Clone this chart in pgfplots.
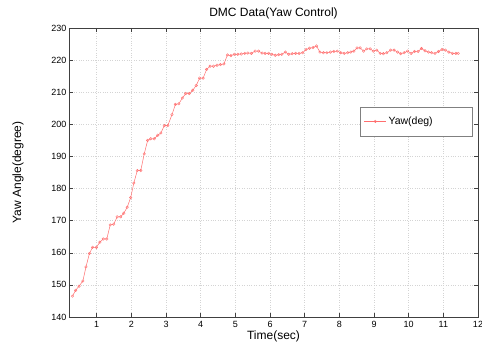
\documentclass[border=0pt]{standalone}
\usepackage{fontspec}
\setmainfont{Liberation Sans}
\usepackage{pgfplots}
\pgfplotsset{compat=1.18}
\definecolor{yawred}{RGB}{255,110,110}
\definecolor{gridgray}{RGB}{212,212,212}
\begin{document}
\begin{tikzpicture}
\begin{axis}[
  scale only axis, width=409pt, height=289pt,
  xmin=0.2, xmax=12, ymin=140, ymax=230,
  xtick={1,2,...,12}, ytick={140,150,...,230},
  grid=major, major grid style={dotted, gridgray, line width=0.5pt},
  tick align=inside, major tick length=4pt,
  axis line style={black!75, line width=0.5pt},
  tick style={black!75, line width=0.5pt},
  /pgf/number format/assume math mode=true,
  tick label style={font=\fontsize{9}{10}\selectfont},
  xticklabel style={yshift=-1pt},
  yticklabel style={xshift=1pt},
  xlabel={Time(sec)}, ylabel={Yaw Angle(degree)},
  label style={font=\fontsize{12}{14}\selectfont},
  xlabel style={yshift=3.5pt},
  ylabel style={yshift=21pt},
  title={DMC Data(Yaw Control)},
  title style={font=\fontsize{12}{14}\selectfont, at={(0.5,1)}, anchor=south, yshift=-1pt},
  legend style={at={(0.711,0.728)}, anchor=north west, draw=black!50, line width=0.5pt,
    inner xsep=4pt, inner ysep=8pt, font=\fontsize{10.5}{12}\selectfont},
  legend cell align=left,
  legend image code/.code={\draw[mark repeat=2,mark phase=2,#1] plot coordinates {(0pt,0pt) (11pt,0pt) (22pt,0pt)};},
]
\addplot[color=yawred, line width=0.5pt, mark=o, mark size=1.3pt, mark options={line width=0.4pt}] coordinates {
(0.30,146.5) (0.39,148.3) (0.49,149.6) (0.60,151.2) (0.69,155.6) (0.79,159.8)
(0.88,161.7) (0.99,161.7) (1.09,163.3) (1.19,164.3) (1.29,164.3) (1.39,168.7)
(1.49,168.9) (1.59,171.2) (1.69,171.2) (1.78,172.3) (1.88,174.2) (1.98,177.2)
(2.07,181.7) (2.17,185.6) (2.27,185.6) (2.37,190.8) (2.47,195.0) (2.56,195.5)
(2.66,195.5) (2.76,196.6) (2.85,197.3) (2.95,199.6) (3.05,199.6) (3.17,203.0)
(3.27,206.2) (3.37,206.4) (3.47,208.2) (3.57,209.6) (3.67,209.6) (3.77,210.6)
(3.87,212.1) (3.97,214.4) (4.07,214.4) (4.17,217.1) (4.27,218.1) (4.37,218.1)
(4.47,218.4) (4.57,218.6) (4.67,218.8) (4.77,221.6) (4.87,221.4) (4.97,221.8)
(5.07,221.8) (5.17,221.9) (5.27,222.1) (5.36,222.2) (5.46,222.1) (5.57,222.8)
(5.67,222.8) (5.77,222.2) (5.86,222.1) (5.96,222.1) (6.05,221.8) (6.15,221.5)
(6.25,221.7) (6.34,221.8) (6.44,222.5) (6.54,221.8) (6.64,222.0) (6.74,222.1)
(6.84,222.1) (6.94,222.3) (7.04,223.3) (7.14,223.7) (7.24,223.9) (7.34,224.4)
(7.44,222.5) (7.54,222.3) (7.64,222.3) (7.74,222.5) (7.84,222.7) (7.94,222.8)
(8.04,222.3) (8.14,222.1) (8.24,222.3) (8.33,222.5) (8.42,222.8) (8.51,223.8)
(8.60,223.8) (8.70,222.8) (8.79,223.5) (8.89,223.5) (8.98,222.8) (9.08,223.1)
(9.18,222.1) (9.27,222.0) (9.37,222.3) (9.48,223.1) (9.58,223.1) (9.68,222.5)
(9.77,222.0) (9.87,222.3) (9.97,222.8) (10.07,222.1) (10.17,222.7) (10.27,222.7)
(10.37,223.6) (10.47,222.9) (10.57,222.5) (10.66,222.3) (10.76,222.1) (10.86,222.7)
(10.96,223.3) (11.06,223.1) (11.16,222.5) (11.26,222.1) (11.36,222.1) (11.43,222.1)
};
\addlegendentry{\makebox[78pt][l]{Yaw(deg)}}
\end{axis}
\pgfresetboundingbox
\path[use as bounding box] ([shift={(-69pt,-25pt)}]current axis.south west) rectangle ([shift={(4pt,28pt)}]current axis.north east);
\end{tikzpicture}
\end{document}
